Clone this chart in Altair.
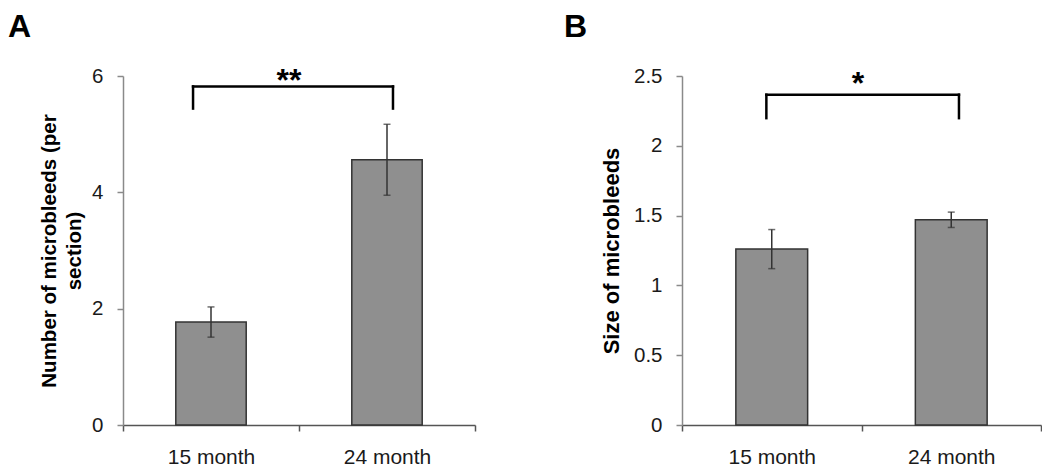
import altair as alt
import pandas as pd

# ---- data ----
categories = ["15 month", "24 month"]

a_means = [1.77, 4.56]
a_errs = [0.26, 0.61]
a_ticks = [0, 2, 4, 6]
a_domain = [0, 6]
a_bracket_top = 5.82
a_bracket_tip = 5.44
a_star = "**"
a_star_y = 5.92

b_means = [1.26, 1.47]
b_errs = [0.14, 0.055]
b_ticks = [0, 0.5, 1, 1.5, 2, 2.5]
b_domain = [0, 2.5]
b_bracket_top = 2.366
b_bracket_tip = 2.198
b_star = "*"
b_star_y = 2.443

FONT = "Liberation Sans"
BAR_FILL = "#8f8f8f"
DARK = "#333333"
AXIS_GREY = "#8a8a8a"


def panel(means, errs, ticks, domain, ytitle, title_x, title_size, letter, letter_x,
          letter_y, br_top, br_tip, br_left, br_right, star, star_y, star_band, w, h):
    df = pd.DataFrame({
        "cat": categories,
        "mean": means,
        "lo": [m - e for m, e in zip(means, errs)],
        "hi": [m + e for m, e in zip(means, errs)],
    })
    xscale = alt.Scale(domain=categories, paddingInner=0, paddingOuter=0)
    yscale = alt.Scale(domain=domain, nice=False, zero=True)
    xaxis = alt.Axis(
        title=None, labelAngle=0, tickBand="extent", tickSize=6, tickWidth=1.5,
        tickColor="#555555", domainColor="#555555", domainWidth=1.5, grid=False,
        labelFont=FONT, labelFontSize=21, labelColor="#1a1a1a", labelPadding=15,
    )
    yaxis = alt.Axis(
        title=ytitle, values=ticks, format="~g", grid=False, tickSize=6, tickWidth=1.5,
        tickColor=AXIS_GREY, domainColor=AXIS_GREY, domainWidth=1.5,
        labelFont=FONT, labelFontSize=20.5, labelColor="#1a1a1a", labelPadding=14,
        titleFont=FONT, titleFontSize=title_size, titleFontWeight="bold",
        titleColor="black", titleX=title_x, titleBaseline="alphabetic",
        titleLineHeight=25,
    )
    base = alt.Chart(df)
    bars = base.mark_bar(width={"band": 0.4}, color=BAR_FILL, stroke=DARK,
                         strokeWidth=1.5).encode(
        x=alt.X("cat:N", scale=xscale, axis=xaxis, sort=categories),
        y=alt.Y("mean:Q", scale=yscale, axis=yaxis),
    )
    err = base.mark_rule(color=DARK, strokeWidth=1.5).encode(
        x=alt.X("cat:N"), y="lo:Q", y2="hi:Q")
    cap_lo = base.mark_tick(color=DARK, thickness=1.5, size=7,
                            orient="horizontal").encode(x=alt.X("cat:N"), y="lo:Q")
    cap_hi = base.mark_tick(color=DARK, thickness=1.5, size=7,
                            orient="horizontal").encode(x=alt.X("cat:N"), y="hi:Q")

    one = alt.Chart(pd.DataFrame({"t": [star]}))
    br_kw = dict(color="black", strokeWidth=2.5, strokeCap="square")
    left_tip = one.mark_rule(**br_kw).encode(
        x=alt.XDatum(categories[0], bandPosition=br_left),
        y=alt.YDatum(br_tip), y2=alt.Y2Datum(br_top))
    right_tip = one.mark_rule(**br_kw).encode(
        x=alt.XDatum(categories[1], bandPosition=br_right),
        y=alt.YDatum(br_tip), y2=alt.Y2Datum(br_top))
    top_line = one.mark_rule(**br_kw).encode(
        x=alt.XDatum(categories[0], bandPosition=br_left),
        x2=alt.X2Datum(categories[1], bandPosition=br_right),
        y=alt.YDatum(br_top))
    star_txt = one.mark_text(font=FONT, fontSize=32, fontWeight="bold",
                             baseline="middle", align="center", color="black").encode(
        x=alt.XDatum(categories[0], bandPosition=star_band),
        y=alt.YDatum(star_y), text="t:N")
    letter_txt = alt.Chart(pd.DataFrame({"t": [letter]})).mark_text(
        font=FONT, fontSize=32, fontWeight="bold", align="left", baseline="top",
        color="black").encode(
        x=alt.value(letter_x), y=alt.value(letter_y), text="t:N")

    return alt.layer(bars, err, cap_lo, cap_hi, left_tip, right_tip, top_line,
                     star_txt, letter_txt).properties(width=w, height=h)


pa = panel(a_means, a_errs, a_ticks, a_domain,
           ["Number of microbleeds (per", "section)"], -68, 20.5, "A", -115, -64,
           a_bracket_top, a_bracket_tip, 0.398, 0.534, a_star, a_star_y, 0.943, 352, 349)
pb = panel(b_means, b_errs, b_ticks, b_domain,
           "Size of microbleeds", -64, 22, "B", -118, -64,
           b_bracket_top, b_bracket_tip, 0.47, 0.543, b_star, b_star_y, 0.98, 359, 349)

chart = alt.hconcat(pa, pb, spacing=88).properties(
    padding={"top": 3, "left": 0, "right": 0, "bottom": 0}, background="white"
).configure_view(stroke="transparent", strokeWidth=0)

chart.save("out.html", embed_options={"renderer": "svg", "actions": False})
